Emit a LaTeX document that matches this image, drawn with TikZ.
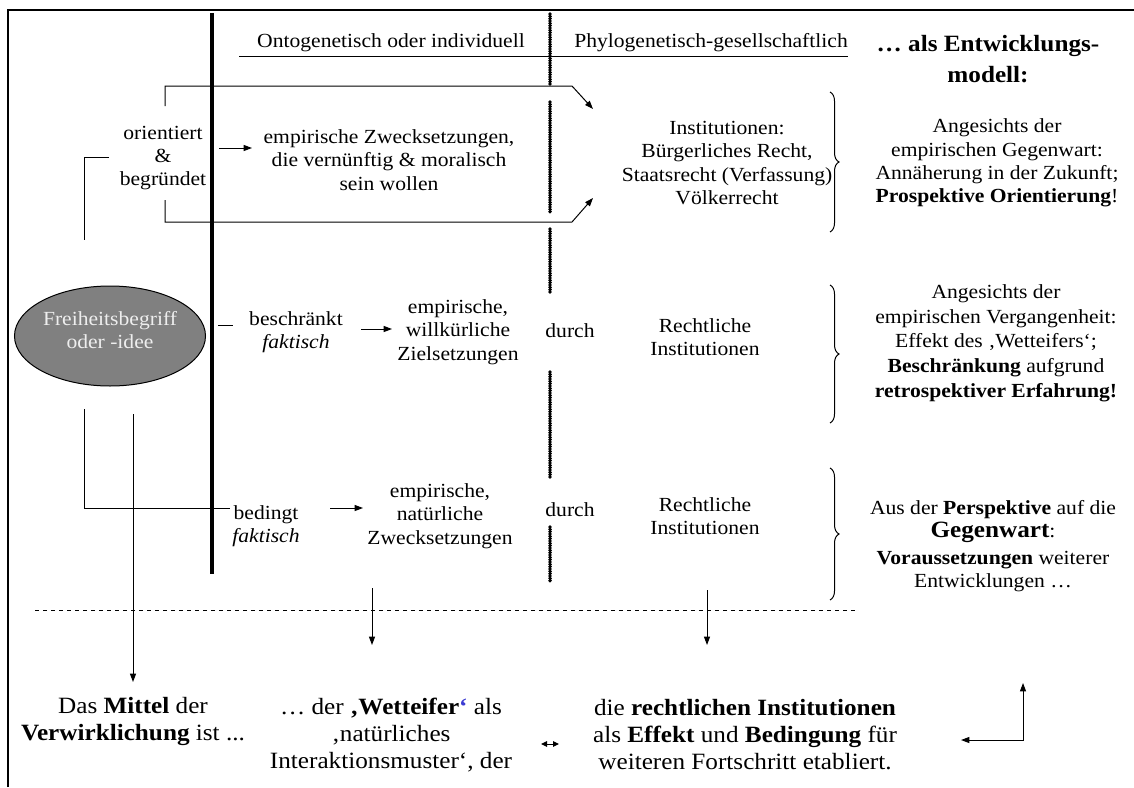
\documentclass[tikz,border=0pt]{standalone}
\usepackage{fontspec}
\setmainfont{Liberation Serif}[FakeStretch=1.08]
\usetikzlibrary{arrows.meta,shapes.geometric,decorations.pathreplacing}
\definecolor{ellgray}{RGB}{128,128,128}
\definecolor{elltext}{RGB}{238,238,238}
\definecolor{quoteblue}{RGB}{60,60,210}
\begin{document}
\begin{tikzpicture}[x=0.6pt,y=-0.6pt,
  every node/.style={inner sep=0pt,align=center,font=\fontsize{12}{14}\selectfont},
  big/.style={font=\fontsize{14}{16.2}\selectfont},
  wide/.style={font=\fontsize{12}{14.8}\selectfont},
  thinline/.style={line width=0.6pt},
  arr/.style={line width=0.6pt,-{Triangle[length=5pt,width=3.6pt]}},
  framebar/.style={line width=1.5pt},
  heavybar/.style={line width=2.1pt},
  beadbar/.style={line width=2.3pt,line cap=round,dash pattern=on 0pt off 1.4pt},
  sepline/.style={line width=0.6pt,dash pattern=on 2.4pt off 2.4pt},
  bracebar/.style={line width=0.6pt,decorate,decoration={brace,amplitude=5.4pt}}]
\useasboundingbox (0,0) rectangle (1134,787);

% frame and column lines
\draw[framebar] (8,787) -- (8,10) -- (1134,10);
\draw[heavybar] (212,13) -- (212,574);
\draw[thinline] (239,57) -- (848,57);
\draw[beadbar] (550,14) -- (550,84);
\draw[beadbar] (550,102) -- (550,213);
\draw[beadbar] (550,229) -- (550,293);
\draw[beadbar] (550,372) -- (550,479);
\draw[beadbar] (550,527) -- (550,582);
\draw[sepline] (35,610) -- (856,610);

% headers
\node (hdrL) at (391,43) {Ontogenetisch oder individuell};
\node (hdrR) at (711,43) {Phylogenetisch-gesellschaftlich};
\node[font=\fontsize{14}{18.6}\selectfont\bfseries] (title) at (988,59) {… als Entwicklungs-\\modell:};

% ellipse
\node[ellipse,draw,line width=0.6pt,fill=ellgray,minimum width=114.6pt,minimum height=60pt] (freiheit) at (110,336) {};
\node[text=elltext] (freiheitT) at (110,330) {Freiheitsbegriff\\oder -idee};

% row 1
\node (orient) at (163,158) {orientiert\\\&\\begründet};
\node (emp1) at (389,160) {empirische Zwecksetzungen,\\die vernünftig \& moralisch\\sein wollen};
\node (inst1) at (727,163) {Institutionen:\\Bürgerliches Recht,\\Staatsrecht (Verfassung)\\Völkerrecht};
\node (right1) at (997,163) {Angesichts der\\empirischen Gegenwart:\\Annäherung in der Zukunft;\\\textbf{Prospektive Orientierung}!};

\coordinate (upS) at (165,106);
\coordinate (upK) at (572,86);
\coordinate (upT) at (593,109);
\coordinate (loS) at (165,200);
\coordinate (loK) at (572,222);
\coordinate (loT) at (593,198);
\draw[arr] (upS) |- (upK) -- (upT);
\draw[arr] (loS) |- (loK) -- (loT);
\coordinate (lbA) at (109,157);
\coordinate (lbB) at (84,240);
\draw[thinline] (lbA) -| (lbB);
\coordinate (a1s) at (219,148);
\coordinate (a1e) at (252,148);
\draw[arr] (a1s) -- (a1e);
\coordinate (br1a) at (830,92);
\coordinate (br1b) at (830,232);
\draw[bracebar] (br1a) -- (br1b);

% row 2
\coordinate (dA) at (218,325);
\coordinate (dB) at (233,325);
\draw[thinline] (dA) -- (dB);
\node (beschr) at (296,332) {beschränkt\\\textit{faktisch}};
\coordinate (a2s) at (361,329);
\coordinate (a2e) at (392,329);
\draw[arr] (a2s) -- (a2e);
\node (emp2) at (458,332) {empirische,\\willkürliche\\Zielsetzungen};
\node (durch1) at (570,331) {durch};
\node (recht1) at (705,337) {Rechtliche\\Institutionen};
\coordinate (br2a) at (830,285);
\coordinate (br2b) at (830,423);
\draw[bracebar] (br2a) -- (br2b);
\node[wide] (right2) at (996,343) {Angesichts der\\empirischen Vergangenheit:\\Effekt des ‚Wetteifers‘;\\\textbf{Beschränkung} aufgrund\\\textbf{retrospektiver Erfahrung!}};

% row 3
\coordinate (lcA) at (84,409);
\coordinate (lcB) at (230,508);
\draw[thinline] (lcA) |- (lcB);
\node (bedingt) at (266,526) {bedingt\\\textit{faktisch}};
\coordinate (a3s) at (330,508);
\coordinate (a3e) at (363,508);
\draw[arr] (a3s) -- (a3e);
\node (emp3) at (440,516) {empirische,\\natürliche\\Zwecksetzungen};
\node (durch2) at (570,510) {durch};
\node (recht2) at (705,516) {Rechtliche\\Institutionen};
\coordinate (br3a) at (830,468);
\coordinate (br3b) at (830,600);
\draw[bracebar] (br3a) -- (br3b);
\node (right3) at (993,546) {Aus der \textbf{Perspektive} auf die\\{\fontsize{14}{16}\selectfont\textbf{Gegenwart}}:\\[2pt]\textbf{Voraussetzungen} weiterer\\Entwicklungen …};

% bottom
\node[big] (bot1) at (133,721) {Das \textbf{Mittel} der\\\textbf{Verwirklichung} ist ...};
\node[big] (bot2) at (391,735) {… der \textbf{‚Wetteifer}\textcolor{quoteblue}{\textbf{‘}} als\\‚natürliches\\Interaktionsmuster‘, der};
\node[big] (bot3) at (745,735) {die \textbf{rechtlichen Institutionen}\\als \textbf{Effekt} und \textbf{Bedingung} für\\weiteren Fortschritt etabliert.};

\coordinate (v1s) at (133,414);
\coordinate (v1e) at (133,682);
\draw[arr] (v1s) -- (v1e);
\coordinate (v2s) at (372,588);
\coordinate (v2e) at (372,645);
\draw[arr] (v2s) -- (v2e);
\coordinate (v3s) at (707,590);
\coordinate (v3e) at (707,645);
\draw[arr] (v3s) -- (v3e);

\coordinate (dbl1) at (541,744);
\coordinate (dbl2) at (559,744);
\draw[line width=0.6pt,{Triangle[length=3.6pt,width=3.3pt]}-{Triangle[length=3.6pt,width=3.3pt]}] (dbl1) -- (dbl2);

\coordinate (bentU) at (1023,683);
\coordinate (bentV) at (1023,740);
\coordinate (bentL) at (961,740);
\draw[line width=0.6pt,{Triangle[length=5pt,width=3.6pt]}-{Triangle[length=5pt,width=3.6pt]}] (bentU) -- (bentV) -- (bentL);
\end{tikzpicture}
\end{document}
